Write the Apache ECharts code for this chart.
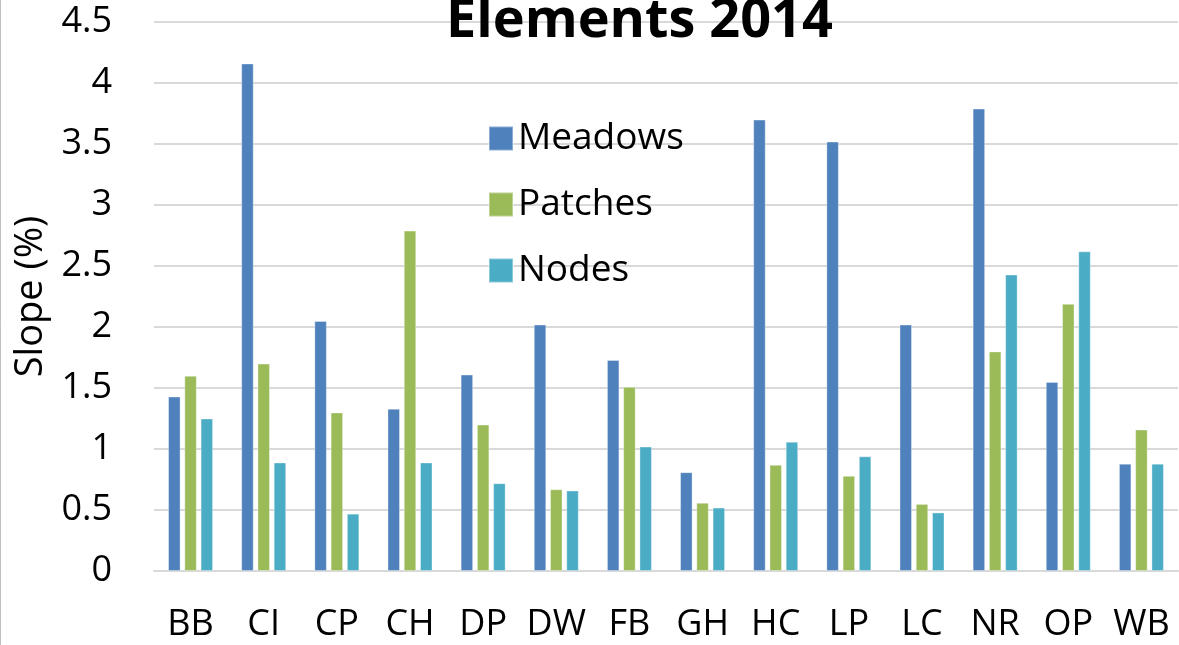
<!DOCTYPE html>
<html>
<head>
<meta charset="utf-8">
<script src="https://cdn.jsdelivr.net/npm/echarts@6/dist/echarts.min.js"></script>
<style>
  html, body { margin: 0; padding: 0; background: #fff; }
  #main { width: 1179px; height: 645px; }
</style>
</head>
<body>
<div id="main"></div>
<script>
// data
var sites = ['BB', 'CI', 'CP', 'CH', 'DP', 'DW', 'FB', 'GH', 'HC', 'LP', 'LC', 'NR', 'OP', 'WB'];
var meadows = [1.43, 4.16, 2.05, 1.33, 1.61, 2.02, 1.73, 0.81, 3.70, 3.52, 2.02, 3.79, 1.55, 0.88];
var patches = [1.60, 1.70, 1.30, 2.79, 1.20, 0.67, 1.51, 0.56, 0.87, 0.78, 0.55, 1.80, 2.19, 1.16];
var nodes   = [1.25, 0.89, 0.47, 0.89, 0.72, 0.66, 1.02, 0.52, 1.06, 0.94, 0.48, 2.43, 2.62, 0.88];
var yTicks = [0, 0.5, 1, 1.5, 2, 2.5, 3, 3.5, 4, 4.5];

var font = "'Open Sans', 'Noto Sans', sans-serif";
var myChart = echarts.init(document.getElementById('main'));

var bar = function(name, data, color){
	return {
		name: name,
		type: 'bar',
		data: data,
		barWidth: 12.5,
		barGap: '30%',
		itemStyle: {color: color, borderColor: 'rgba(255,255,255,0.35)', borderWidth: 1}
	};
};

var option = {
	animation: false,
	title: {
		text: 'Elements 2014',
		left: 441,
		top: -10,
		textStyle: {fontFamily: font, fontSize: 54, fontWeight: 'bold', color: '#000'}
	},
	legend: {
		orient: 'vertical',
		left: 483,
		top: 115,
		itemWidth: 24,
		itemHeight: 24,
		itemGap: 29,
		icon: 'rect',
		textStyle: {fontFamily: font, fontSize: 37, color: '#000'},
		data: ['Meadows', 'Patches', 'Nodes']
	},
	grid: {left: 154, right: 1, top: 22, bottom: 74, containLabel: false, outerBoundsMode: 'none'},
	xAxis: {
		type: 'category',
		data: sites,
		axisLine: {lineStyle: {color: '#d9d9d9', width: 2}},
		axisTick: {show: false},
		axisLabel: {fontFamily: font, fontSize: 36, color: '#000', margin: 36, interval: 0}
	},
	yAxis: {
		type: 'value',
		min: yTicks[0],
		max: yTicks[yTicks.length - 1],
		interval: 0.5,
		name: 'Slope (%)',
		nameLocation: 'middle',
		nameGap: 103,
		nameRotate: 90,
		nameTextStyle: {fontFamily: font, fontSize: 38, color: '#000'},
		axisLine: {show: false},
		axisTick: {show: false},
		splitLine: {lineStyle: {color: '#d9d9d9', width: 2}},
		axisLabel: {fontFamily: font, fontSize: 36, color: '#000', margin: 42}
	},
	graphic: [{
		type: 'line',
		shape: {x1: 0.5, y1: 0, x2: 0.5, y2: 645},
		style: {stroke: '#bfbfbf', lineWidth: 1}
	}],
	series: [
		bar('Meadows', meadows, '#4f81bd'),
		bar('Patches', patches, '#9bbb59'),
		bar('Nodes', nodes, '#4bacc6')
	]
};

myChart.setOption(option);
</script>
</body>
</html>
